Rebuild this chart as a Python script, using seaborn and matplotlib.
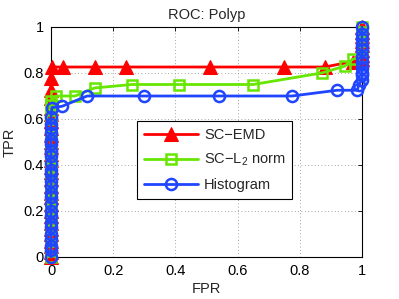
import matplotlib
matplotlib.use("Agg")
import matplotlib.pyplot as plt
import seaborn as sns
import numpy as np
import pandas as pd

# ---- data ----
emd_fpr = [0, 0, 0, 0, 0, 0, 0, 0, 0, 0, 0, 0, 0, 0, 0, 0, 0, 0, 0, 0, 0, 0, 0, 0, 0, 0, 0, 0,
           0.003, 0.04, 0.14, 0.24, 0.51, 0.75, 0.88, 0.97,
           1, 1, 1, 1, 1, 1, 1, 1]
emd_tpr = [0, 0.02, 0.05, 0.07, 0.1, 0.12, 0.15, 0.18, 0.2, 0.23, 0.26, 0.28, 0.31, 0.34, 0.37,
           0.39, 0.42, 0.45, 0.48, 0.5, 0.53, 0.56, 0.59, 0.62, 0.65, 0.69, 0.725, 0.78,
           0.826, 0.826, 0.826, 0.826, 0.826, 0.826, 0.826, 0.85,
           0.86, 0.88, 0.9, 0.92, 0.94, 0.96, 0.98, 1.0]

l2_fpr = [0, 0, 0, 0, 0, 0, 0, 0, 0, 0, 0, 0, 0, 0, 0, 0, 0, 0, 0, 0, 0, 0, 0, 0, 0, 0, 0,
          0.016, 0.077, 0.14, 0.26, 0.41, 0.65, 0.87, 0.945, 0.97,
          1, 1, 1, 1, 1, 1, 1]
l2_tpr = [0, 0.025, 0.05, 0.08, 0.1, 0.13, 0.16, 0.18, 0.21, 0.24, 0.27, 0.29, 0.32, 0.35, 0.38,
          0.4, 0.43, 0.46, 0.49, 0.51, 0.54, 0.57, 0.6, 0.62, 0.64, 0.66, 0.68,
          0.70, 0.70, 0.735, 0.75, 0.75, 0.75, 0.80, 0.83, 0.86,
          0.87, 0.9, 0.92, 0.94, 0.96, 0.98, 1.0]

hist_fpr = [0, 0, 0, 0, 0, 0, 0, 0, 0, 0, 0, 0, 0, 0, 0, 0, 0, 0, 0, 0, 0, 0, 0, 0, 0,
            0.003, 0.035, 0.116, 0.30, 0.54, 0.775, 0.92, 0.985, 0.99,
            1, 1, 1, 1, 1, 1, 1, 1, 1, 1, 1]
hist_tpr = [0, 0.03, 0.05, 0.08, 0.1, 0.13, 0.15, 0.18, 0.2, 0.23, 0.26, 0.28, 0.31, 0.33, 0.36,
            0.38, 0.41, 0.44, 0.46, 0.49, 0.51, 0.54, 0.56, 0.58, 0.61,
            0.65, 0.655, 0.70, 0.70, 0.70, 0.70, 0.725, 0.725, 0.75,
            0.77, 0.79, 0.8, 0.82, 0.85, 0.87, 0.9, 0.92, 0.95, 0.97, 1.0]

labels = ["SC\u2212EMD", "SC\u2212L$_2$ norm", "Histogram"]
ticks = [0, 0.2, 0.4, 0.6, 0.8, 1]
tick_labels = ["0", "0.2", "0.4", "0.6", "0.8", "1"]

# ---- style ----
sns.set_style("white")
plt.rcParams['font.family'] = ['Liberation Sans', 'DejaVu Sans']
plt.rcParams['mathtext.fontset'] = 'custom'
plt.rcParams['mathtext.rm'] = 'Liberation Sans'
plt.rcParams['mathtext.it'] = 'Liberation Sans'

FS = 10.5

fig = plt.figure(figsize=(3.99, 2.99), dpi=100)
ax = fig.add_axes([51/399, 1 - 257/299, 311/399, 230/299])

red = "#ff0000"
green = "#66e600"
blue = "#1f45ff"

sns.lineplot(x=emd_fpr, y=emd_tpr, sort=False, estimator=None, ax=ax, color=red,
             linewidth=2.0, marker="^", markersize=9.5, markeredgecolor=red,
             markerfacecolor=red, label=labels[0], clip_on=False, zorder=3)
sns.lineplot(x=l2_fpr, y=l2_tpr, sort=False, estimator=None, ax=ax, color=green,
             linewidth=2.0, marker="s", markersize=6.5, markeredgecolor=green,
             markerfacecolor="none", markeredgewidth=1.8, label=labels[1],
             clip_on=False, zorder=4)
sns.lineplot(x=hist_fpr, y=hist_tpr, sort=False, estimator=None, ax=ax, color=blue,
             linewidth=2.0, marker="o", markersize=8, markeredgecolor=blue,
             markerfacecolor="none", markeredgewidth=1.8, label=labels[2],
             clip_on=False, zorder=5)

ax.set_xlim(0, 1)
ax.set_ylim(0, 1)
ax.set_xticks(ticks)
ax.set_yticks(ticks)
ax.set_xticklabels(tick_labels)
ax.set_yticklabels(tick_labels)
ax.tick_params(direction="in", length=3, width=0.6, labelsize=FS, colors="black",
               top=True, right=True, pad=5)
ax.grid(True, linestyle=(0, (1, 3)), color="#888888", linewidth=0.6)
for s in ax.spines.values():
    s.set_color("black")
    s.set_linewidth(0.8)
    s.set_visible(True)

ax.set_title("ROC: Polyp", fontsize=FS, pad=6)
ax.set_xlabel("FPR", fontsize=FS, labelpad=3)
ax.set_ylabel("TPR", fontsize=FS, labelpad=5)

leg = ax.legend(loc="upper left", bbox_to_anchor=(0.277, 0.591), fontsize=FS,
                frameon=True, fancybox=False, framealpha=1, edgecolor="black",
                handlelength=3.7, handletextpad=0.45, labelspacing=0.7,
                borderpad=0.45, borderaxespad=0)
leg.get_frame().set_linewidth(0.8)
leg.set_zorder(10)

fig.savefig("out.png", dpi=100)
